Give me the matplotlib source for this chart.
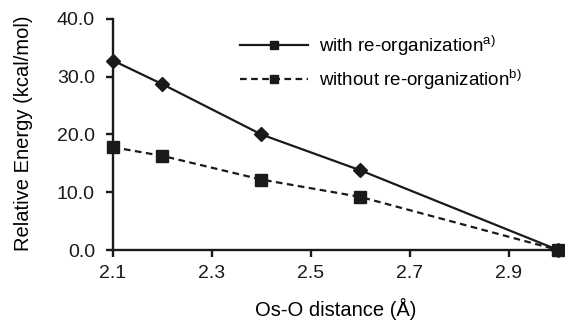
import matplotlib
matplotlib.use("Agg")
import matplotlib.pyplot as plt
from matplotlib.lines import Line2D

plt.rcParams['font.family'] = ['Liberation Sans', 'DejaVu Sans']
plt.rcParams['mathtext.fontset'] = 'custom'
plt.rcParams['mathtext.rm'] = 'Liberation Sans'

distance = [2.1, 2.2, 2.4, 2.6, 3.0]
with_reorg = [32.8, 28.7, 20.0, 13.8, 0.0]
without_reorg = [17.8, 16.3, 12.2, 9.2, 0.0]
xticks = [2.1, 2.3, 2.5, 2.7, 2.9]
yticks = [0, 10, 20, 30, 40]
labels = ["with re-organization$^{\\mathrm{a)}}$", "without re-organization$^{\\mathrm{b)}}$"]

C = '#1a1a1a'
fig = plt.figure(figsize=(5.65, 3.21), dpi=100)
ax = fig.add_axes([0.2, 0.221, 0.788, 0.72])

ax.plot(distance, without_reorg, '--', color=C, lw=1.6, marker='s', ms=8, clip_on=False, zorder=3,
        dashes=(3, 2))
ax.plot(distance, with_reorg, '-', color=C, lw=1.6, marker='D', ms=6.8, clip_on=False, zorder=4)

ax.set_xlim(2.1, 3.0)
ax.set_ylim(0, 40)
ax.set_xticks(xticks)
ax.set_xticklabels([f"{v:.1f}" for v in xticks])
ax.set_yticks(yticks)
ax.set_yticklabels([f"{v:.1f}" for v in yticks])
for s in ['top', 'right']:
    ax.spines[s].set_visible(False)
for s in ['left', 'bottom']:
    ax.spines[s].set_linewidth(1.7)
    ax.spines[s].set_color(C)
ax.tick_params(direction='out', length=5, width=1.7, labelsize=14, colors=C)
ax.tick_params(axis='x', pad=6)
ax.tick_params(axis='y', pad=8)
ax.set_xlabel("Os-O distance (Å)", fontsize=14.5, va='center', ha='center')
ax.xaxis.set_label_coords(0.5, (250 - 309) / 231)
ax.set_ylabel("Relative Energy (kcal/mol)", fontsize=14.5, va='center', ha='center')
ax.yaxis.set_label_coords((24 - 113) / 445, 0.506)

handles = [Line2D([], [], color=C, lw=1.6, marker='s', ms=6),
           Line2D([], [], color=C, lw=1.6, ls='--', dashes=(3, 2), marker='s', ms=6)]
ax.legend(handles, labels, loc='upper left', bbox_to_anchor=((240 - 113) / 445, (250 - 33) / 231),
          frameon=False, fontsize=13.5, handlelength=3.6, labelspacing=0.5, handletextpad=0.6,
          borderpad=0, borderaxespad=0)

fig.savefig("out.png", dpi=100)
